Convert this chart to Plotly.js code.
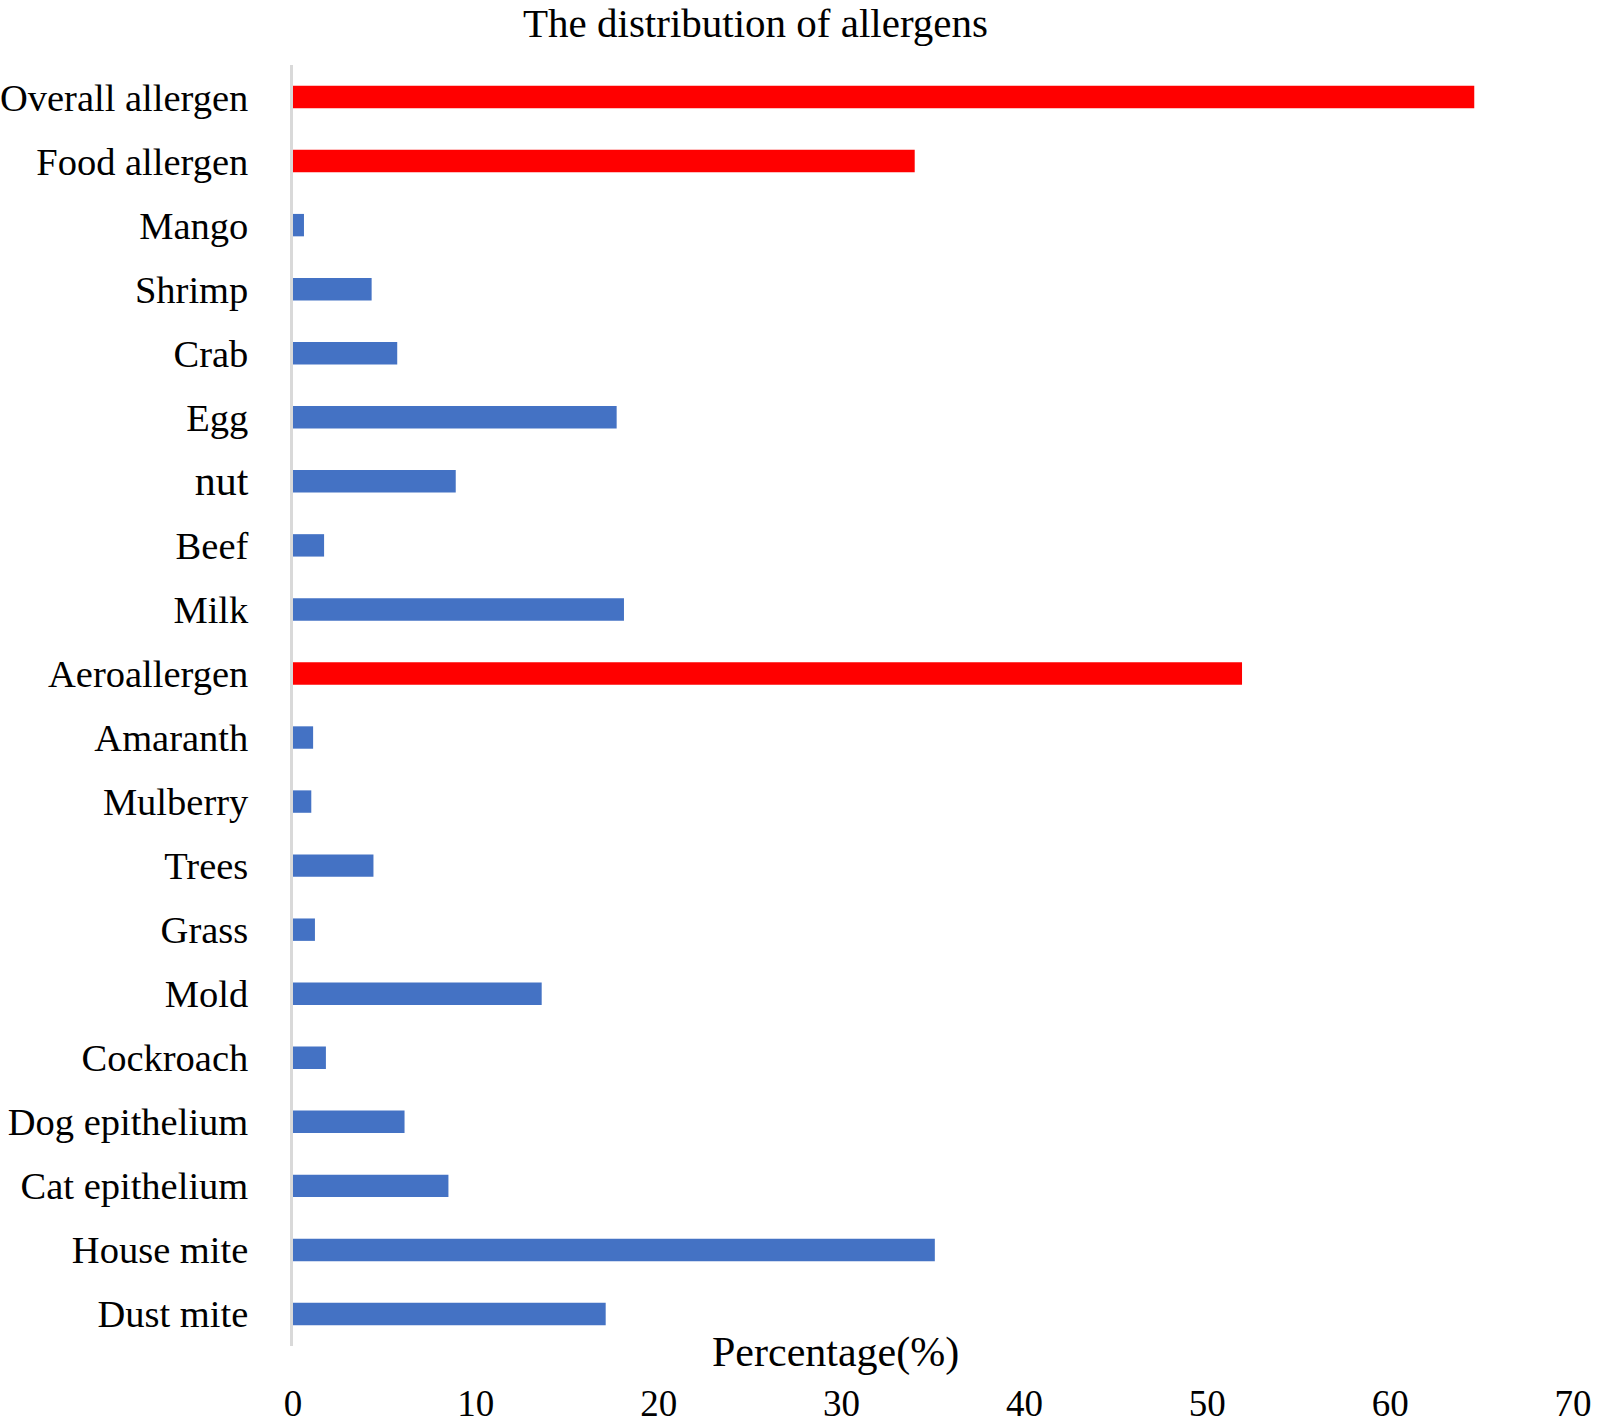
<!DOCTYPE html>
<html>
<head>
<meta charset="utf-8">
<script src="https://cdn.plot.ly/plotly-3.0.1.min.js"></script>
<style>html,body{margin:0;padding:0;background:#fff;}#chart{width:1599px;height:1424px;}</style>
</head>
<body>
<div id="chart"></div>
<script>
const categories = ["Overall allergen","Food allergen","Mango","Shrimp","Crab","Egg","nut","Beef","Milk","Aeroallergen","Amaranth","Mulberry","Trees","Grass","Mold","Cockroach","Dog epithelium","Cat epithelium","House mite","Dust mite"];
const values = [64.6,34.0,0.6,4.3,5.7,17.7,8.9,1.7,18.1,51.9,1.1,1.0,4.4,1.2,13.6,1.8,6.1,8.5,35.1,17.1];
const groupFlags = [1,1,0,0,0,0,0,0,0,1,0,0,0,0,0,0,0,0,0,0];
const xTicks = [0,10,20,30,40,50,60,70];

const RED = "#ff0000", BLUE = "#4472c4";
const colors = groupFlags.map(g => g ? RED : BLUE);
const tickText = categories.map(c => c === "nut" ? '<span style="font-size:42px">nut</span>' : c);

const font = "Liberation Serif, Times New Roman, serif";

Plotly.newPlot("chart", [{
  type: "bar",
  orientation: "h",
  x: values,
  y: categories,
  marker: {color: colors, line: {width: 0}},
  hoverinfo: "x+y"
}], {
  width: 1599, height: 1424,
  margin: {l: 293, r: 26, t: 65, b: 78, pad: 0},
  paper_bgcolor: "#fff", plot_bgcolor: "#fff",
  showlegend: false,
  bargap: 0.65,
  font: {family: font, color: "#000", size: 38},
  title: {text: "The distribution of allergens", font: {family: font, size: 41, color: "#000"},
          x: 0.4725, xanchor: "center", xref: "container", y: 0.9945, yanchor: "top", yref: "container"},
  xaxis: {
    range: [0, 70], tickvals: xTicks, ticktext: xTicks.map(String),
    showgrid: false, zeroline: false, showline: false, ticks: "",
    ticklabelstandoff: 32,
    tickfont: {family: font, size: 37, color: "#000"},
    fixedrange: true
  },
  yaxis: {
    type: "category", categoryorder: "array", categoryarray: categories,
    tickvals: categories, ticktext: tickText,
    autorange: "reversed",
    showgrid: false, zeroline: false,
    showline: true, linecolor: "#d9d9d9", linewidth: 3,
    ticks: "", ticklabelstandoff: 34,
    tickfont: {family: font, size: 38.5, color: "#000"},
    fixedrange: true
  },
  annotations: [{
    text: "Percentage(%)", showarrow: false,
    xref: "paper", yref: "paper", x: 0.424, y: -0.005, xanchor: "center", yanchor: "middle",
    font: {family: font, size: 42, color: "#000"}
  }]
}, {displayModeBar: false, staticPlot: true});
</script>
</body>
</html>
